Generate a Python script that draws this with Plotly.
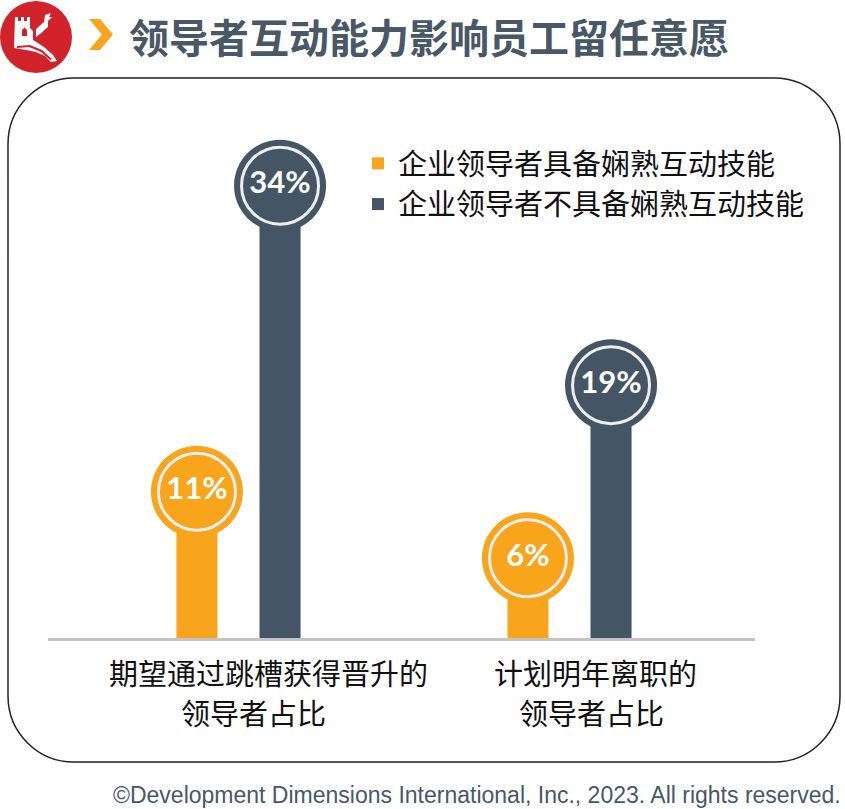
import plotly.graph_objects as go

# ---------------- data ----------------
categories = ["期望通过跳槽获得晋升的<br>领导者占比", "计划明年离职的<br>领导者占比"]
series_names = ["企业领导者具备娴熟互动技能", "企业领导者不具备娴熟互动技能"]
values_skilled = [11, 6]
values_unskilled = [34, 19]
title_text = "领导者互动能力影响员工留任意愿"
footer_text = "©Development Dimensions International, Inc., 2023. All rights reserved."

ORANGE = "#F8A51B"
SLATE = "#445665"
TEXTC = "#485866"
RED = "#D2232A"

W, H = 845, 809
def px(x):
    return x / W
def py(y):
    return 1 - y / H

group_pos = list(range(len(categories)))
half = 0.1255       # half distance between paired bars (x units)
bw = 0.124          # bar width (x units)

x_sk = [g - half for g in group_pos]
x_un = [g + half for g in group_pos]

fig = go.Figure()
fig.add_trace(go.Bar(x=x_sk, y=values_skilled, width=bw, name=series_names[0],
                     marker=dict(color=ORANGE, line=dict(width=0)), hoverinfo="skip"))
fig.add_trace(go.Bar(x=x_un, y=values_unskilled, width=bw, name=series_names[1],
                     marker=dict(color=SLATE, line=dict(width=0)), hoverinfo="skip"))

for xs, vs, col in [(x_sk, values_skilled, ORANGE), (x_un, values_unskilled, SLATE)]:
    fig.add_trace(go.Scatter(x=xs, y=vs, mode="markers", showlegend=False, hoverinfo="skip",
                             marker=dict(size=92, color=col, line=dict(width=0))))
    fig.add_trace(go.Scatter(x=xs, y=vs, mode="markers+text", showlegend=False, hoverinfo="skip",
                             marker=dict(size=77, color=col, line=dict(width=3, color="#EEEEEE")),
                             text=[f"<b>{v}%</b>" for v in vs], textposition="middle center",
                             textfont=dict(family="Lato", size=31, color="white")))

def poly(pts):
    return "M " + " L ".join(f"{px(a)},{py(b)}" for a, b in pts) + " Z"

shapes = []
# rounded frame
x0, x1, y0, y1, r = 8, 840, 78, 762, 66
k = 0.5523 * r
path = (f"M {px(x0 + r)},{py(y0)} L {px(x1 - r)},{py(y0)} "
        f"C {px(x1 - r + k)},{py(y0)} {px(x1)},{py(y0 + r - k)} {px(x1)},{py(y0 + r)} "
        f"L {px(x1)},{py(y1 - r)} "
        f"C {px(x1)},{py(y1 - r + k)} {px(x1 - r + k)},{py(y1)} {px(x1 - r)},{py(y1)} "
        f"L {px(x0 + r)},{py(y1)} "
        f"C {px(x0 + r - k)},{py(y1)} {px(x0)},{py(y1 - r + k)} {px(x0)},{py(y1 - r)} "
        f"L {px(x0)},{py(y0 + r)} "
        f"C {px(x0)},{py(y0 + r - k)} {px(x0 + r - k)},{py(y0)} {px(x0 + r)},{py(y0)} Z")
shapes.append(dict(type="path", xref="paper", yref="paper", path=path,
                   line=dict(color="#222222", width=1.5), fillcolor="rgba(0,0,0,0)", layer="below"))
# logo circle
shapes.append(dict(type="circle", xref="paper", yref="paper", x0=px(0), x1=px(72), y0=py(73), y1=py(1),
                   fillcolor=RED, line=dict(width=0)))
# stylised great-wall tower in the logo
tower = [(15, 17), (18, 17), (18, 21), (21, 21), (21, 17), (24, 17), (24, 21), (27, 21), (27, 17),
         (30, 17), (30, 28), (33, 31), (33, 40), (44, 47), (53, 55), (57, 61), (51, 62), (45, 56),
         (36, 52), (26, 50), (14, 48)]
shapes.append(dict(type="path", xref="paper", yref="paper", path=poly(tower),
                   fillcolor="white", line=dict(width=0)))
door = [(22, 36), (22, 30), (24.5, 27.5), (27, 30), (27, 36)]
shapes.append(dict(type="path", xref="paper", yref="paper", path=poly(door),
                   fillcolor=RED, line=dict(width=0)))
gap = [(17, 46), (30, 45), (42, 50), (52, 59), (50, 60), (41, 52), (29, 47), (17, 48)]
shapes.append(dict(type="path", xref="paper", yref="paper", path=poly(gap),
                   fillcolor=RED, line=dict(width=0)))
upper = [(36, 37), (36, 29), (44, 22), (45, 15), (51, 13), (49, 17), (52, 17), (48, 21), (48, 27),
         (40, 34)]
shapes.append(dict(type="path", xref="paper", yref="paper", path=poly(upper),
                   fillcolor="white", line=dict(width=0)))
# chevron
chev = [(89, 19), (100, 19), (113, 34.5), (100, 50), (89, 50), (102, 34.5)]
shapes.append(dict(type="path", xref="paper", yref="paper", path=poly(chev),
                   fillcolor=ORANGE, line=dict(width=0)))

annotations = [
    dict(xref="paper", yref="paper", x=px(127), y=py(36), xanchor="left", yanchor="middle",
         text=f"<b>{title_text}</b>", showarrow=False,
         font=dict(family="Noto Sans CJK SC", size=40, color=TEXTC)),
    dict(xref="paper", yref="paper", x=px(843), y=py(795), xanchor="right", yanchor="middle",
         text=footer_text, showarrow=False,
         font=dict(family="Liberation Sans", size=23, color=TEXTC)),
]
label_shifts = [[0.09, 0.045], [0.08, 0.065]]
line_y = [672, 712]
for g, cat, shifts in zip(group_pos, categories, label_shifts):
    for ln, yy, sh in zip(cat.split("<br>"), line_y, shifts):
        annotations.append(dict(xref="x", yref="paper", x=g + sh, y=py(yy), xanchor="center",
                                yanchor="middle", text=ln, showarrow=False,
                                font=dict(family="Noto Sans CJK SC", size=29, color="#111111")))

fig.update_layout(
    width=W, height=H, margin=dict(l=0, r=0, t=0, b=0),
    paper_bgcolor="white", plot_bgcolor="rgba(0,0,0,0)",
    barmode="overlay", showlegend=True,
    legend=dict(x=px(358), y=py(138), xanchor="left", yanchor="top", bgcolor="rgba(0,0,0,0)",
                font=dict(family="Noto Sans CJK SC", size=29, color="#111111"),
                tracegroupgap=0, itemwidth=30),
    xaxis=dict(domain=[px(48), px(755)], range=[-0.5755, 1.5604], showgrid=False, zeroline=False,
               showticklabels=False, ticks="", showline=True, linecolor="#C4C4C4", linewidth=2.5,
               fixedrange=True),
    yaxis=dict(domain=[py(638), py(105.8)], range=[0, 40], showgrid=False, zeroline=False,
               showticklabels=False, ticks="", showline=False, fixedrange=True),
    shapes=shapes, annotations=annotations,
)
fig.write_html("out.html", config={"displayModeBar": False},
               post_script="document.body.style.margin='0';document.body.style.overflow='hidden';")
